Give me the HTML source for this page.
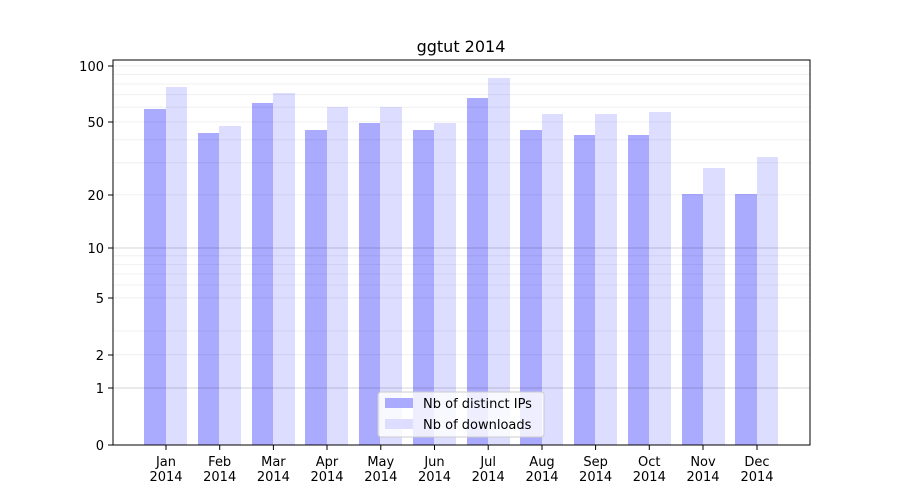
<!DOCTYPE html>
<html><head><meta charset="utf-8"><style>body{margin:0;background:#fff}svg{display:block;font-family:"DejaVu Sans","Liberation Sans",sans-serif}</style></head><body>
<svg width="900" height="500" viewBox="0 0 900 500">
<rect width="900" height="500" fill="#fff"/>
<g fill="#aaaaff">
<rect x="144" y="109" width="22" height="336"/><rect x="198" y="133" width="21" height="312"/><rect x="252" y="103" width="21" height="342"/><rect x="305" y="130" width="22" height="315"/><rect x="359" y="123" width="21" height="322"/><rect x="413" y="130" width="21" height="315"/><rect x="467" y="98" width="21" height="347"/><rect x="520" y="130" width="22" height="315"/><rect x="574" y="135" width="21" height="310"/><rect x="628" y="135" width="21" height="310"/><rect x="682" y="194" width="21" height="251"/><rect x="735" y="194" width="22" height="251"/>
</g>
<g fill="#ddddff">
<rect x="166" y="87" width="21" height="358"/><rect x="219" y="126" width="22" height="319"/><rect x="273" y="93" width="22" height="352"/><rect x="327" y="107" width="21" height="338"/><rect x="380" y="107" width="22" height="338"/><rect x="434" y="123" width="22" height="322"/><rect x="488" y="78" width="22" height="367"/><rect x="542" y="114" width="21" height="331"/><rect x="595" y="114" width="22" height="331"/><rect x="649" y="112" width="22" height="333"/><rect x="703" y="168" width="22" height="277"/><rect x="757" y="157" width="21" height="288"/>
</g>
<g stroke="#000" stroke-opacity="0.07" stroke-width="0.8">
<line x1="113" x2="810" y1="354.7" y2="354.7"/><line x1="113" x2="810" y1="331" y2="331"/><line x1="113" x2="810" y1="297.8" y2="297.8"/><line x1="113" x2="810" y1="285" y2="285"/><line x1="113" x2="810" y1="274" y2="274"/><line x1="113" x2="810" y1="264.5" y2="264.5"/><line x1="113" x2="810" y1="255.8" y2="255.8"/>
<line x1="113" x2="810" y1="194.9" y2="194.9"/><line x1="113" x2="810" y1="162.8" y2="162.8"/><line x1="113" x2="810" y1="139.8" y2="139.8"/><line x1="113" x2="810" y1="121.9" y2="121.9"/><line x1="113" x2="810" y1="107.2" y2="107.2"/><line x1="113" x2="810" y1="94.7" y2="94.7"/><line x1="113" x2="810" y1="84" y2="84"/><line x1="113" x2="810" y1="74.3" y2="74.3"/><line x1="113" x2="810" y1="65.8" y2="65.8"/>
</g>
<g stroke="#000" stroke-opacity="0.22" stroke-width="0.8">
<line x1="113" x2="810" y1="388" y2="388"/><line x1="113" x2="810" y1="248" y2="248"/>
</g>
<rect x="113" y="60" width="697" height="385" fill="none" stroke="#000" stroke-width="1"/>
<g stroke="#000" stroke-width="1">
<line x1="108" x2="113" y1="445" y2="445"/><line x1="108" x2="113" y1="388" y2="388"/><line x1="108" x2="113" y1="355" y2="355"/><line x1="108" x2="113" y1="298" y2="298"/><line x1="108" x2="113" y1="248" y2="248"/><line x1="108" x2="113" y1="195" y2="195"/><line x1="108" x2="113" y1="122" y2="122"/><line x1="108" x2="113" y1="66" y2="66"/>
<line x1="166" x2="166" y1="445" y2="450"/><line x1="219.7" x2="219.7" y1="445" y2="450"/><line x1="273.4" x2="273.4" y1="445" y2="450"/><line x1="327" x2="327" y1="445" y2="450"/><line x1="380.8" x2="380.8" y1="445" y2="450"/><line x1="434.5" x2="434.5" y1="445" y2="450"/><line x1="488.2" x2="488.2" y1="445" y2="450"/><line x1="542" x2="542" y1="445" y2="450"/><line x1="595.6" x2="595.6" y1="445" y2="450"/><line x1="649.3" x2="649.3" y1="445" y2="450"/><line x1="703" x2="703" y1="445" y2="450"/><line x1="757" x2="757" y1="445" y2="450"/>
</g>
<g font-size="13" text-anchor="end" fill="#000">
<text x="104" y="450">0</text><text x="104" y="393">1</text><text x="104" y="360">2</text><text x="104" y="303">5</text><text x="104" y="253">10</text><text x="104" y="200">20</text><text x="104" y="127">50</text><text x="104" y="71">100</text>
</g>
<g font-size="13" text-anchor="middle" fill="#000">
<text x="166" y="466">Jan</text><text x="166" y="481">2014</text>
<text x="219.7" y="466">Feb</text><text x="219.7" y="481">2014</text>
<text x="273.4" y="466">Mar</text><text x="273.4" y="481">2014</text>
<text x="327" y="466">Apr</text><text x="327" y="481">2014</text>
<text x="380.8" y="466">May</text><text x="380.8" y="481">2014</text>
<text x="434.5" y="466">Jun</text><text x="434.5" y="481">2014</text>
<text x="488.2" y="466">Jul</text><text x="488.2" y="481">2014</text>
<text x="542" y="466">Aug</text><text x="542" y="481">2014</text>
<text x="595.6" y="466">Sep</text><text x="595.6" y="481">2014</text>
<text x="649.3" y="466">Oct</text><text x="649.3" y="481">2014</text>
<text x="703" y="466">Nov</text><text x="703" y="481">2014</text>
<text x="757" y="466">Dec</text><text x="757" y="481">2014</text>
</g>
<text x="461" y="52" font-size="16" text-anchor="middle">ggtut 2014</text>
<rect x="378" y="392" width="166" height="45" rx="3" fill="#fff" fill-opacity="0.8" stroke="#ccc"/>
<rect x="385" y="398" width="28" height="10" fill="#aaaaff"/>
<rect x="385" y="419" width="28" height="10" fill="#ddddff"/>
<text x="423" y="408" font-size="13">Nb of distinct IPs</text>
<text x="423" y="429" font-size="13">Nb of downloads</text>
</svg>
</body></html>
